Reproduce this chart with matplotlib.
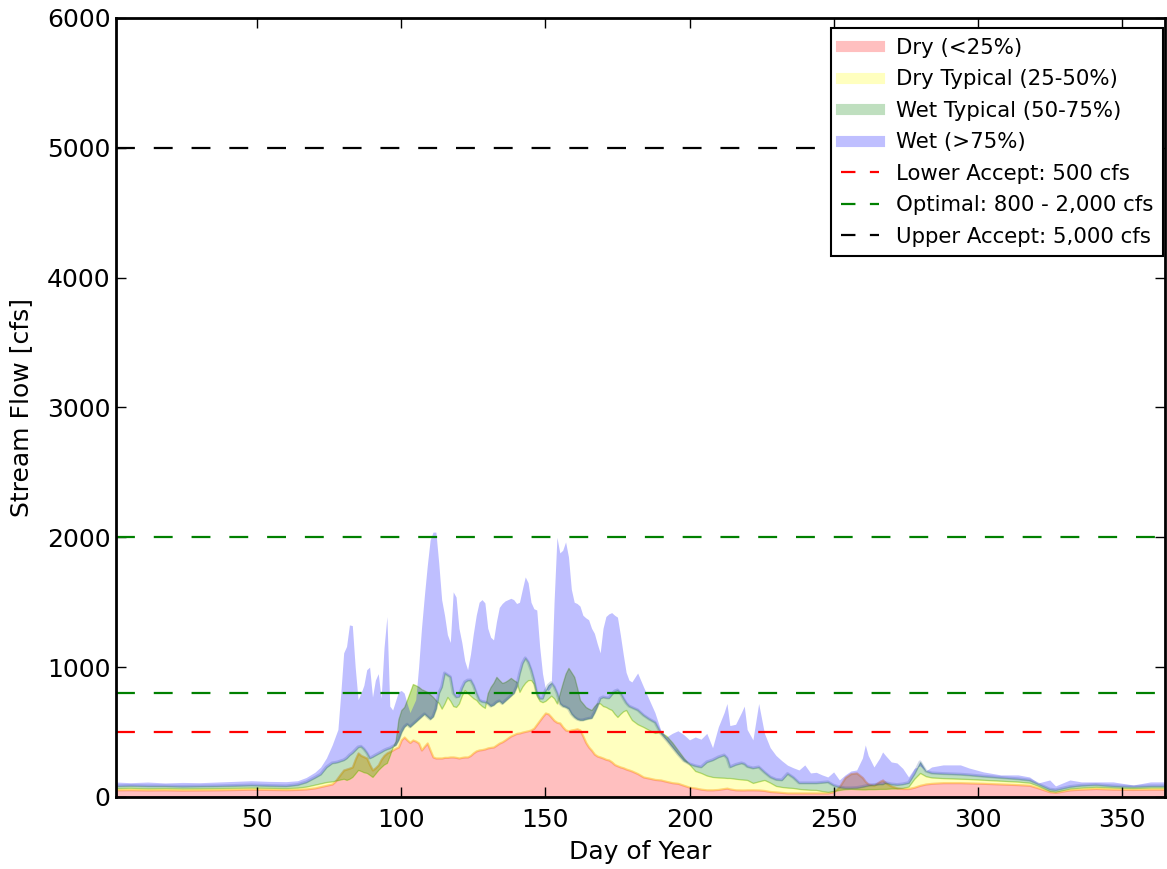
import numpy as np
import matplotlib.pyplot as plt
from matplotlib.lines import Line2D

# Day of year sample points (sparse in flat periods, daily through spring runoff)
days = ([1, 6, 12, 18, 24, 30, 36, 42, 48, 54, 60, 64, 67, 70, 72, 74]
        + list(range(76, 181))
        + [182, 184, 186, 188, 190, 192, 194, 196, 198, 200, 202, 204, 206, 208, 210,
           212, 213, 214, 216, 218, 219, 220, 222, 224, 226, 228, 230, 232, 234, 236,
           238, 240, 242, 244, 246, 248, 250, 252, 254, 256, 258, 260, 261, 262, 264,
           266, 267, 268, 270, 272, 274, 276, 278, 280, 282, 284, 288, 294, 297, 302,
           308, 314, 318, 321, 325, 327, 332, 336, 341, 347, 354, 360, 365])

# Mean flow per year class [cfs]
dry = ([55, 56, 54, 55, 53, 54, 55, 57, 60, 58, 56, 58, 62, 70, 80, 90]
       + [100, 120, 150, 180, 208, 215, 222, 231, 290, 339,
          320, 310, 300, 250, 208, 225, 247, 290, 320, 339,
          350, 362, 375, 385, 440, 462, 439, 420, 439, 430,
          416, 362, 390, 416, 360, 308, 300, 300, 300, 305,
          305, 308, 308, 305, 300, 305, 308, 308, 320, 340,
          355, 362, 365, 370, 378, 382, 385, 400, 415, 425,
          439, 455, 470, 480, 490, 493, 500, 505, 510, 516,
          530, 560, 590, 620, 647, 640, 616, 590, 575, 570,
          540, 516, 510, 516, 520, 525, 516, 470, 420, 385,
          360, 330, 315, 308, 300, 290, 285, 270, 250, 240,
          231, 225, 215, 208, 200]
       + [180, 154, 145, 135, 131, 120, 110, 105, 90, 75, 69, 60, 55, 55, 58,
          65, 68, 62, 55, 54, 54, 55, 55, 54, 50, 42, 39, 35, 31, 31,
          31, 31, 31, 31, 31, 31, 40, 80, 150, 180, 185, 150, 120, 100, 90,
          120, 131, 110, 85, 70, 65, 65, 75, 90, 100, 105, 110, 110, 108, 105,
          100, 95, 90, 70, 40, 35, 55, 60, 65, 60, 58, 60, 60])

dry_typical = ([68, 70, 66, 68, 65, 66, 68, 70, 72, 70, 68, 72, 80, 95, 105, 115]
               + [120, 125, 130, 135, 140, 131, 140, 154, 180, 208,
                  200, 190, 185, 170, 154, 180, 208, 230, 250, 262,
                  320, 385, 430, 600, 670, 693, 750, 809, 870, 860,
                  848, 830, 820, 809, 790, 770, 745, 724, 680, 720,
                  770, 740, 700, 693, 720, 780, 824, 800, 780, 760,
                  747, 720, 700, 686, 800, 848, 880, 925, 900, 878,
                  886, 900, 917, 900, 886, 809, 850, 880, 900, 901,
                  870, 780, 740, 730, 740, 760, 780, 760, 720, 800,
                  878, 950, 994, 960, 925, 840, 747, 720, 693, 680,
                  670, 700, 724, 720, 700, 693, 680, 670, 640, 616,
                  640, 660, 670, 630, 593]
               + [560, 539, 515, 493, 500, 470, 420, 360, 300, 250, 200, 185, 165, 154, 150,
                  148, 146, 146, 140, 135, 133, 131, 108, 120, 131, 110, 85, 77, 72, 69,
                  62, 58, 55, 54, 45, 39, 45, 54, 60, 62, 60, 58, 58, 60, 60,
                  62, 62, 62, 65, 65, 70, 80, 140, 185, 160, 150, 145, 140, 138, 132,
                  125, 118, 110, 85, 45, 40, 65, 72, 78, 72, 68, 72, 72])

wet_typical = ([85, 88, 85, 85, 82, 84, 85, 88, 92, 88, 85, 95, 115, 150, 175, 230]
               + [262, 265, 270, 278, 285, 300, 323, 340, 362, 385,
                  390, 370, 340, 300, 310, 323, 335, 347, 360, 370,
                  377, 390, 401, 440, 500, 540, 560, 540, 560, 580,
                  600, 620, 640, 620, 600, 620, 680, 800, 848, 955,
                  940, 925, 800, 770, 775, 840, 886, 900, 901, 860,
                  800, 747, 735, 732, 720, 700, 710, 730, 740, 720,
                  740, 760, 780, 800, 850, 950, 1030, 1071, 1040, 980,
                  900, 800, 760, 760, 820, 860, 880, 850, 800, 720,
                  700, 693, 680, 640, 616, 600, 593, 593, 600, 605,
                  609, 650, 700, 760, 770, 765, 763, 790, 815, 824,
                  801, 760, 724, 700, 690]
               + [670, 630, 600, 575, 490, 440, 385, 330, 280, 255, 240, 231, 270, 285, 308,
                  323, 300, 231, 250, 262, 255, 235, 223, 231, 190, 154, 135, 131, 180, 150,
                  108, 108, 108, 108, 112, 116, 90, 77, 70, 70, 72, 80, 85, 90, 95,
                  100, 100, 110, 100, 95, 100, 110, 180, 270, 200, 185, 180, 175, 170, 160,
                  150, 140, 130, 100, 60, 55, 80, 90, 95, 85, 80, 85, 85])

wet = ([115, 110, 115, 108, 112, 110, 115, 120, 125, 120, 118, 125, 150, 190, 230, 300]
       + [400, 460, 520, 800, 1110, 1160, 1325, 1320, 1000, 750,
          800, 860, 980, 1000, 770, 900, 950, 760, 1150, 1390,
          700, 670, 740, 810, 820, 800, 720, 650, 700, 750,
          1000, 1300, 1550, 1780, 1980, 2040, 2040, 1800, 1520, 1400,
          1250, 1190, 1580, 1540, 1300, 1190, 1050, 980, 1100, 1260,
          1400, 1500, 1520, 1495, 1300, 1230, 1210, 1350, 1460, 1490,
          1510, 1520, 1530, 1520, 1490, 1500, 1600, 1695, 1650, 1500,
          1450, 1440, 1160, 950, 830, 820, 850, 1500, 2000, 1880,
          1900, 1965, 1850, 1600, 1500, 1490, 1470, 1400, 1380, 1365,
          1300, 1260, 1180, 1110, 1300, 1390, 1410, 1420, 1400, 1385,
          1250, 1100, 960, 900, 886]
       + [955, 850, 750, 650, 516, 462, 490, 510, 480, 440, 462, 445, 490, 380, 540,
          650, 720, 550, 560, 650, 700, 520, 440, 720, 490, 380, 320, 280, 245, 225,
          208, 247, 185, 190, 170, 154, 193, 131, 170, 200, 208, 300, 401, 320, 231,
          300, 347, 320, 270, 262, 220, 154, 220, 240, 200, 231, 247, 247, 223, 193,
          170, 170, 154, 108, 131, 85, 131, 116, 116, 116, 92, 116, 116])

class_labels = ['Dry (<25%)', 'Dry Typical (25-50%)', 'Wet Typical (50-75%)', 'Wet (>75%)']
class_colors = ['red', 'yellow', 'green', 'blue']

limit_values = [500, 800, 2000, 5000]
limit_colors = ['red', 'green', 'green', 'black']
limit_labels = ['Lower Accept: 500 cfs', 'Optimal: 800 - 2,000 cfs', 'Upper Accept: 5,000 cfs']

x = np.array(days)
curves = [np.zeros(len(x)), np.array(dry), np.array(dry_typical),
          np.array(wet_typical), np.array(wet)]

fig = plt.figure(figsize=(11.67, 8.69), dpi=100)
ax = fig.add_axes([0.0994, 0.0829, 0.8989, 0.8964])

# Bands between consecutive class curves (wet band drawn without outline)
edge_widths = [1.6, 1.2, 0.8, 0.0]
for i, c in enumerate(class_colors):
    ax.fill_between(x, curves[i], curves[i + 1], facecolor=c, edgecolor=c,
                    alpha=0.25, linewidth=edge_widths[i])
ax.plot(x, curves[3], color='#3050a0', alpha=0.22, linewidth=2.2)

dash = (0, (8.5, 8.5))
for v, c in zip(limit_values, limit_colors):
    ax.axhline(v, color=c, linewidth=1.6, linestyle=dash)

ax.set_xlim(1, 365)
ax.set_ylim(0, 6000)
ax.set_xticks([50, 100, 150, 200, 250, 300, 350])
ax.set_yticks(range(0, 6001, 1000))
ax.set_xlabel('Day of Year', fontsize=18, labelpad=6)
ax.set_ylabel('Stream Flow [cfs]', fontsize=18, labelpad=10)
ax.tick_params(direction='in', top=True, right=True, length=7, width=1,
               labelsize=18)
ax.tick_params(axis='x', pad=8)
ax.tick_params(axis='y', pad=4)
for s in ax.spines.values():
    s.set_linewidth(2)

handles = [Line2D([], [], color=c, alpha=0.25, linewidth=8) for c in class_colors]
handles += [Line2D([], [], color=c, linewidth=1.6, linestyle=(0, (6.5, 6.5)))
            for c in ['red', 'green', 'black']]
leg = ax.legend(handles, class_labels + limit_labels, loc='upper right',
                bbox_to_anchor=(1.0, 0.9897), borderaxespad=0.1, fontsize=15.3,
                fancybox=False, framealpha=1, edgecolor='black',
                handlelength=1.8, handletextpad=0.8, labelspacing=0.54, borderpad=0.45)
leg.get_frame().set_linewidth(1.5)

fig.savefig('out.png', dpi=100)
